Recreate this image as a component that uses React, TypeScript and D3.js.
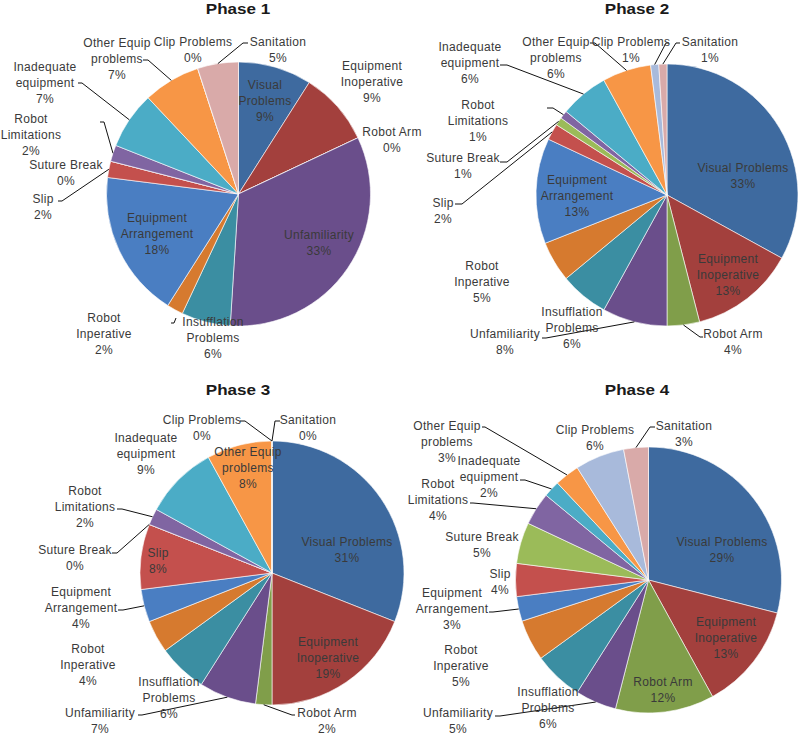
import React from "react";
import * as d3 from "d3";

const categories = [
  "Visual Problems", "Equipment Inoperative", "Robot Arm", "Unfamiliarity",
  "Insufflation Problems", "Robot Inperative", "Equipment Arrangement", "Slip",
  "Suture Break", "Robot Limitations", "Inadequate equipment", "Other Equip problems",
  "Clip Problems", "Sanitation",
];
const categoryLines = [
  ["Visual", "Problems"], ["Equipment", "Inoperative"], ["Robot Arm"], ["Unfamiliarity"],
  ["Insufflation", "Problems"], ["Robot", "Inperative"], ["Equipment", "Arrangement"], ["Slip"],
  ["Suture Break"], ["Robot", "Limitations"], ["Inadequate", "equipment"], ["Other Equip", "problems"],
  ["Clip Problems"], ["Sanitation"],
];
const phaseTitles = ["Phase 1", "Phase 2", "Phase 3", "Phase 4"];
const phase1Values = [9, 9, 0, 33, 6, 2, 18, 2, 0, 2, 7, 7, 0, 5];
const phase2Values = [33, 13, 4, 8, 6, 5, 13, 2, 1, 1, 6, 6, 1, 1];
const phase3Values = [31, 19, 2, 7, 6, 4, 4, 8, 0, 2, 9, 8, 0, 0];
const phase4Values = [29, 13, 12, 5, 6, 5, 3, 4, 5, 4, 2, 3, 6, 3];
const phaseValues = [phase1Values, phase2Values, phase3Values, phase4Values];

const colors = [
  "#3E6A9F", "#A3403D", "#809E4A", "#6A4E8B", "#3B8EA2", "#D67A2F", "#4A7EC2",
  "#C4504D", "#9BBB59", "#8065A2", "#4BACC6", "#F79646", "#A8BADB", "#D9AAA9",
];

// ---- layout (positions only) ----
const pies = [
  { cx: 238.5, cy: 194, r: 132, tx: 238, ty: 14 },
  { cx: 667, cy: 195, r: 131, tx: 637, ty: 14 },
  { cx: 272, cy: 573, r: 132, tx: 238, ty: 395 },
  { cx: 648.5, cy: 580, r: 133, tx: 637, ty: 395 },
];
// label anchor: [x, firstLineCenterY, wrap]
const labelPos = [
  [[265, 85, 1], [372, 66, 1], [392, 132, 1], [319, 235, 1], [213, 322, 1], [104, 318, 1], [157, 218, 1],
   [43, 199, 1], [66, 165, 1], [31, 119, 1], [45, 67, 1], [117, 43, 1], [193, 42, 1], [278, 42, 1]],
  [[743, 168, 0], [728, 259, 1], [733, 334, 1], [505, 334, 1], [572, 312, 1], [482, 266, 1], [577, 180, 1],
   [443, 203, 1], [463, 158, 1], [478, 105, 1], [470, 47, 1], [556, 42, 1], [631, 42, 1], [710, 42, 1]],
  [[347, 542, 0], [328, 642, 1], [327, 713, 1], [100, 713, 1], [169, 682, 1], [88, 649, 1], [81, 592, 1],
   [158, 553, 1], [75, 550, 1], [85, 491, 1], [146, 438, 1], [248, 452, 1], [202, 420, 1], [308, 420, 1]],
  [[722, 542, 0], [726, 622, 1], [663, 682, 1], [458, 713, 1], [548, 692, 1], [461, 650, 1], [452, 593, 1],
   [500, 574, 1], [482, 537, 1], [438, 484, 1], [489, 461, 1], [447, 426, 1], [595, 430, 1], [684, 426, 1]],
];
// leaders: [categoryIndex, x1, y1, kneeX]  -> then to slice edge
const leaders = [
  [[7, 58, 201, 62], [9, 100, 122, 104], [10, 78, 83, 82], [11, 143, 60, 148], [13, 248, 43, 243]],
  [[2, 703, 337, 700], [3, 542, 338, 546], [7, 455, 204, 462], [8, 500, 162, 507], [9, 547, 108, 553],
   [10, 500, 65, 507], [11, 590, 43, 595], [12, 669, 43, 666], [13, 680, 43, 676]],
  [[2, 295, 715, 292], [3, 138, 715, 142], [6, 118, 610, 123], [8, 112, 553, 117], [9, 117, 509, 122],
   [12, 240, 421, 245], [13, 280, 421, 275]],
  [[3, 495, 716, 500], [6, 489, 612, 493], [9, 470, 503, 473], [10, 520, 480, 525], [11, 482, 427, 485],
   [13, 655, 427, 650]],
];

const LABEL_FONT = "'Liberation Sans', Arial, sans-serif";
const LINE_H = 16;

function Pie({ idx }: { idx: number }) {
  const values = phaseValues[idx];
  const p = pies[idx];
  const arcs = d3.pie<number>().sort(null).value((d) => d)(values);
  const arcGen = d3.arc<d3.PieArcDatum<number>>().innerRadius(0).outerRadius(p.r);
  const edge = (i: number) => {
    const a = arcs[i];
    const m = (a.startAngle + a.endAngle) / 2;
    return [p.cx + p.r * Math.sin(m), p.cy - p.r * Math.cos(m)];
  };
  return (
    <g>
      <g transform={`translate(${p.cx},${p.cy})`}>
        {arcs.map((a, i) => (
          <path key={i} d={arcGen(a) || ""} fill={colors[i]} stroke="#fff" strokeWidth={0.6} />
        ))}
      </g>
      <text
        transform={`translate(${p.tx},${p.ty}) scale(1.1,1)`}
        textAnchor="middle"
        fontFamily="'Liberation Sans', Arial, sans-serif"
        fontWeight="bold"
        fontSize={15.5}
        fill="#1a1a1a"
      >
        {phaseTitles[idx]}
      </text>
      {leaders[idx].map(([ci, x1, y1, kx], k) => {
        const [ex, ey] = edge(ci);
        return (
          <polyline key={k} points={`${x1},${y1} ${kx},${y1} ${ex},${ey}`} fill="none" stroke="#111" strokeWidth={1} />
        );
      })}
      {idx === 0 && (
        <polyline points="171,323 174,323 176,318" fill="none" stroke="#111" strokeWidth={1} />
      )}
      {labelPos[idx].map(([x, y, wrap], i) => {
        const lines = wrap ? categoryLines[i] : [categories[i]];
        const all = [...lines, `${values[i]}%`];
        return (
          <text key={i} textAnchor="middle" fontFamily={LABEL_FONT} fontSize={12} fill="#3a3a3a" letterSpacing={0.3}>
            {all.map((t, j) => (
              <tspan key={j} x={x} y={y + j * LINE_H + 4}>{t}</tspan>
            ))}
          </text>
        );
      })}
    </g>
  );
}

export default function App() {
  return (
    <svg width={800} height={735} style={{ position: "absolute", left: 0, top: 0, background: "#fff" }}>
      <rect width={800} height={735} fill="#fff" />
      {[0, 1, 2, 3].map((i) => (
        <Pie key={i} idx={i} />
      ))}
    </svg>
  );
}
